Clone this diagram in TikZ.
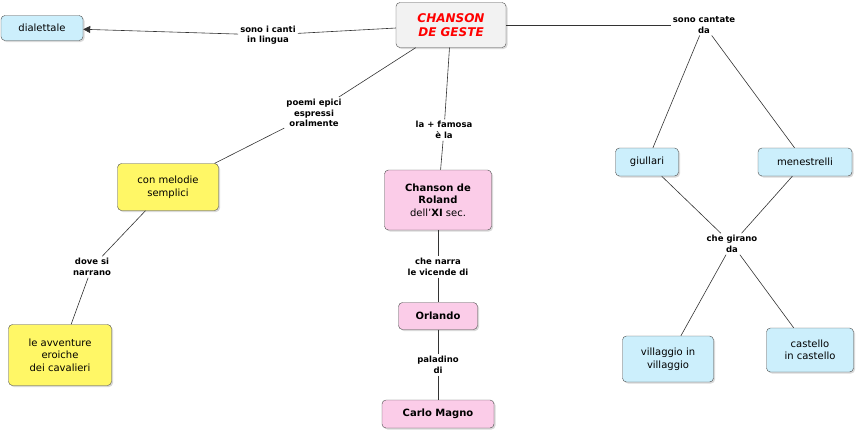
\documentclass[tikz,border=0pt]{standalone}
\usepackage{fontspec}
\setmainfont{DejaVu Sans}
\usetikzlibrary{shadows,arrows.meta}
\begin{document}
\begin{tikzpicture}[x=1pt,y=-1pt,
 box/.style={draw=black!70,rounded corners=4pt,align=center,font=\fontsize{10}{12.5}\selectfont,inner sep=3pt,drop shadow={shadow xshift=1.5pt,shadow yshift=-1.5pt,opacity=0.3}},
 cy/.style={box,fill=cyan!20},
 ye/.style={box,fill=yellow!60},
 pk/.style={box,fill=magenta!20},
 lab/.style={align=center,font=\bfseries\fontsize{8.5}{10.5}\selectfont,inner sep=2pt},
 ln/.style={draw=black!80,line width=0.6pt}]
\useasboundingbox (0,0) rectangle (857,432);
\node[box,fill=black!5,minimum width=110pt,minimum height=45pt,text=red,font=\bfseries\itshape\fontsize{12}{14}\selectfont] (t) at (451,25) {CHANSON\\DE GESTE};
\node[cy,minimum width=82pt,minimum height=25pt] (d) at (42,28) {dialettale};
\node[cy,minimum width=63pt,minimum height=28pt] (g) at (647,162) {giullari};
\node[cy,minimum width=94pt,minimum height=28pt] (m) at (805,162) {menestrelli};
\node[cy,minimum width=91pt,minimum height=46pt] (v) at (668,359) {villaggio in\\villaggio};
\node[cy,minimum width=87pt,minimum height=44pt] (c) at (810,350) {castello\\in castello};
\node[ye,minimum width=101pt,minimum height=47pt] (cm) at (168,187) {con melodie\\semplici};
\node[ye,minimum width=103pt,minimum height=61pt] (av) at (60,355) {le avventure\\eroiche\\dei cavalieri};
\node[pk,minimum width=107pt,minimum height=60pt] (r) at (438,200) {\textbf{Chanson de}\\\textbf{Roland}\\dell'\textbf{XI} sec.};
\node[pk,minimum width=79pt,minimum height=27pt,font=\bfseries\fontsize{10}{12}\selectfont] (o) at (438,316) {Orlando};
\node[pk,minimum width=112pt,minimum height=28pt,font=\bfseries\fontsize{10}{12}\selectfont] (cg) at (438,414) {Carlo Magno};
\node[lab] (l1) at (268,35) {sono i canti\\in lingua};
\node[lab] (l2) at (704,25) {sono cantate\\da};
\node[lab] (l3) at (314,113) {poemi epici\\espressi\\oralmente};
\node[lab] (l4) at (444,130) {la + famosa\\è la};
\node[lab] (l5) at (92,267) {dove si\\narrano};
\node[lab] (l6) at (438,267) {che narra\\le vicende di};
\node[lab] (l7) at (438,365) {paladino\\di};
\node[lab] (l8) at (732,244) {che girano\\da};
\draw[ln] (t) -- (l1); \draw[ln,-{Triangle[length=7pt,width=7pt]}] (l1) -- (d);
\draw[ln] (t) -- (l2); \draw[ln] (l2) -- (g); \draw[ln] (l2) -- (m);
\draw[ln] (t) -- (l3); \draw[ln] (l3) -- (cm);
\draw[ln] (t) -- (l4); \draw[ln] (l4) -- (r);
\draw[ln] (cm) -- (l5); \draw[ln] (l5) -- (av);
\draw[ln] (r) -- (l6); \draw[ln] (l6) -- (o);
\draw[ln] (o) -- (l7); \draw[ln] (l7) -- (cg);
\draw[ln] (g) -- (l8); \draw[ln] (m) -- (l8);
\draw[ln] (l8) -- (v); \draw[ln] (l8) -- (c);
\end{tikzpicture}
\end{document}
